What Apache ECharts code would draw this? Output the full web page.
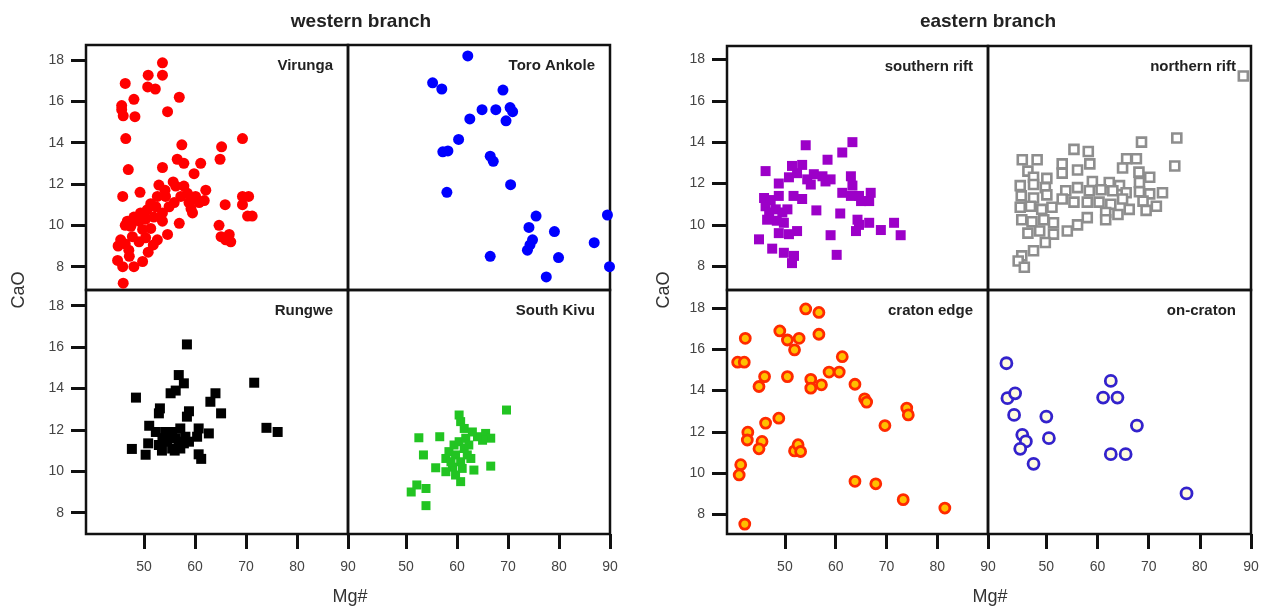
<!DOCTYPE html>
<html><head><meta charset="utf-8">
<script src="https://cdn.jsdelivr.net/npm/echarts@6/dist/echarts.min.js"></script>
<style>html,body{margin:0;padding:0;background:#fff}#c{width:1271px;height:608px}</style>
</head><body><div id="c"></div>
<script>
// ---- data (Mg#, CaO) ----
const virunga = [[53.6,17.87],[50.8,17.27],[53.6,17.27],[46.3,16.87],[50.7,16.7],[52.2,16.6],[56.9,16.2],[48.0,16.1],[45.6,15.8],[45.6,15.6],[45.9,15.3],[48.2,15.26],[54.6,15.5],[46.4,14.2],[57.4,13.9],[65.2,13.8],[64.9,13.2],[69.3,14.2],[46.9,12.7],[53.6,12.8],[56.5,13.2],[57.8,13.0],[61.1,13.0],[59.8,12.5],[45.8,11.4],[49.2,11.6],[52.9,11.95],[55.7,12.1],[62.1,11.7],[61.8,11.2],[65.9,11.0],[69.3,11.4],[70.5,11.4],[69.3,11.0],[70.3,10.45],[71.2,10.45],[64.7,10.0],[65.1,9.45],[66.7,9.56],[67.0,9.2],[66.0,9.3],[56.9,10.1],[54.6,9.56],[45.4,9.3],[46.3,9.1],[47.7,9.45],[49.0,9.2],[50.3,9.4],[51.8,9.05],[52.6,9.3],[44.8,8.3],[45.8,8.0],[48.0,8.0],[49.7,8.25],[47.1,8.5],[45.9,7.2],[46.7,10.2],[48.0,10.4],[49.3,10.6],[50.6,10.75],[50.3,10.3],[51.9,10.4],[52.3,10.9],[53.6,10.6],[53.6,10.2],[52.6,11.4],[54.2,11.4],[54.9,10.9],[55.9,11.1],[57.2,11.4],[57.8,11.9],[58.5,11.55],[58.8,11.1],[59.5,10.6],[60.1,11.4],[60.8,11.1],[59.2,10.8],[56.2,11.9],[54.1,11.7],[51.3,11.05],[49.0,10.2],[47.4,9.95],[51.3,9.85],[49.7,9.8],[44.9,9.0],[47.0,8.8],[50.8,8.7],[46.3,10.0]];
const toroAnkole = [[62.1,18.2],[55.2,16.9],[57.0,16.6],[69.0,16.55],[64.9,15.6],[67.6,15.6],[70.4,15.7],[70.9,15.5],[62.5,15.15],[69.6,15.06],[60.3,14.16],[57.2,13.56],[58.2,13.6],[66.5,13.35],[67.1,13.1],[58.0,11.6],[70.5,11.97],[75.5,10.45],[74.1,9.9],[79.1,9.7],[74.8,9.3],[74.3,9.05],[73.8,8.8],[66.5,8.5],[79.9,8.44],[77.5,7.5],[86.9,9.16],[89.5,10.5],[89.9,8.0]];
const rungwe = [[58.4,16.13],[56.8,14.65],[57.8,14.25],[55.2,13.77],[56.2,13.9],[48.4,13.56],[71.6,14.28],[64.0,13.77],[63.0,13.36],[65.1,12.8],[53.1,13.04],[52.9,12.8],[58.8,12.9],[58.4,12.64],[51.0,12.2],[74.0,12.1],[76.2,11.9],[60.7,12.07],[62.7,11.83],[47.6,11.08],[50.3,10.8],[50.8,11.35],[60.7,10.82],[52.3,11.9],[53.6,11.6],[52.9,11.27],[54.5,11.43],[55.5,11.9],[56.2,11.6],[55.5,11.1],[57.1,11.1],[57.1,12.07],[58.1,11.67],[58.8,11.43],[54.2,11.9],[56.8,11.43],[57.8,11.35],[54.9,11.67],[60.4,11.67],[61.2,10.6],[53.5,11.0],[56.0,11.0]];
const southKivu = [[69.7,12.96],[60.4,12.72],[60.7,12.4],[61.4,12.07],[52.5,11.62],[56.6,11.67],[53.4,10.79],[65.6,11.83],[66.6,11.6],[65.0,11.5],[64.0,11.67],[66.6,10.25],[55.8,10.17],[63.3,10.06],[60.7,9.5],[51.0,9.0],[52.1,9.34],[53.9,9.17],[53.9,8.34],[57.8,10.62],[58.4,10.95],[59.4,11.27],[59.7,10.79],[60.4,11.43],[61.4,11.1],[61.7,11.6],[62.3,11.27],[62.7,10.62],[59.1,10.2],[57.8,9.98],[59.7,9.82],[58.8,10.46],[60.7,10.46],[63.0,11.9],[62.0,10.79],[61.0,10.14]];
const southernRift = [[46.2,12.6],[54.1,13.85],[58.4,13.15],[61.3,13.5],[63.3,14.0],[51.4,12.85],[53.4,12.9],[48.8,12.0],[50.8,12.3],[52.4,12.5],[54.4,12.2],[55.7,12.45],[57.4,12.35],[59.0,12.2],[55.1,11.95],[58.0,12.1],[63.0,12.35],[63.3,11.9],[61.3,11.55],[63.0,11.4],[64.6,11.4],[66.9,11.55],[66.6,11.15],[65.0,11.15],[45.9,11.3],[47.2,11.2],[48.8,11.4],[51.7,11.4],[53.4,11.25],[46.2,10.9],[46.9,10.6],[48.2,10.75],[49.5,10.6],[50.5,10.75],[46.5,10.25],[48.4,10.2],[49.8,10.1],[56.2,10.7],[60.9,10.55],[64.3,10.25],[64.6,10.0],[64.0,9.7],[66.6,10.1],[68.9,9.75],[71.5,10.1],[72.8,9.5],[48.8,9.6],[50.8,9.55],[52.4,9.7],[59.0,9.5],[44.9,9.3],[47.5,8.85],[49.8,8.65],[51.8,8.5],[51.4,8.15],[60.2,8.55]];
const northernRift = [[88.5,17.2],[68.6,14.0],[75.5,14.2],[75.1,12.85],[55.4,13.65],[58.2,13.55],[45.3,13.15],[48.2,13.15],[53.1,12.95],[58.5,12.95],[65.7,13.2],[67.6,13.2],[46.4,12.6],[53.1,12.5],[56.1,12.65],[64.9,12.75],[68.1,12.55],[70.2,12.3],[47.5,12.3],[50.1,12.25],[44.9,11.9],[47.5,11.95],[49.8,11.8],[59.0,12.1],[62.3,12.05],[64.3,11.9],[68.2,12.05],[53.8,11.65],[56.1,11.8],[58.4,11.65],[60.7,11.7],[63.0,11.65],[65.6,11.55],[68.2,11.6],[70.2,11.5],[72.7,11.55],[45.1,11.4],[47.5,11.3],[50.1,11.45],[53.1,11.25],[55.4,11.1],[58.0,11.1],[60.3,11.1],[62.6,11.0],[64.9,11.25],[68.9,11.15],[71.5,10.9],[69.5,10.7],[44.9,10.85],[46.9,10.9],[49.1,10.75],[51.1,10.85],[61.6,10.6],[64.0,10.5],[61.6,10.25],[66.2,10.75],[45.2,10.25],[47.2,10.15],[49.5,10.25],[51.4,10.1],[58.0,10.35],[56.1,10.0],[54.1,9.7],[46.4,9.6],[48.7,9.7],[51.4,9.55],[49.8,9.15],[47.5,8.75],[45.2,8.5],[44.5,8.25],[45.7,7.95]];
const cratonEdge = [[54.1,17.97],[56.7,17.8],[42.2,16.54],[49.0,16.9],[50.5,16.46],[52.8,16.54],[51.9,15.98],[56.7,16.74],[40.7,15.38],[42.0,15.38],[61.3,15.65],[58.7,14.9],[60.7,14.9],[46.0,14.68],[44.9,14.2],[50.5,14.68],[55.1,14.55],[55.1,14.12],[57.2,14.28],[63.8,14.31],[65.7,13.6],[66.1,13.44],[74.0,13.15],[74.3,12.82],[69.7,12.3],[48.8,12.66],[46.2,12.42],[42.7,11.98],[42.6,11.6],[45.5,11.53],[44.9,11.17],[51.9,11.07],[52.6,11.37],[53.1,11.04],[41.3,10.4],[41.0,9.9],[42.1,7.51],[63.8,9.59],[67.9,9.47],[73.3,8.7],[81.5,8.29]];
const onCraton = [[42.2,15.33],[42.4,13.63],[43.9,13.87],[43.7,12.82],[50.0,12.74],[45.3,11.85],[46.0,11.53],[44.9,11.17],[50.5,11.69],[47.5,10.44],[62.6,14.47],[61.1,13.66],[63.9,13.66],[67.7,12.3],[62.6,10.91],[65.5,10.91],[77.4,9.0]];

const xTicks = [50, 60, 70, 80, 90];
const yTicks = [8, 10, 12, 14, 16, 18];
const panelNames = ['Virunga','Toro Ankole','Rungwe','South Kivu','southern rift','northern rift','craton edge','on-craton'];
const branchTitles = ['western branch','eastern branch'];
const xName = 'Mg#', yName = 'CaO';

// ---- layout / style ----
const FONT = '"Liberation Sans", Arial, sans-serif';
const panels = [
  {data: virunga, g:[86,45,262,245], y:[6.87,18.73], yl:true,  xl:false, sym:'circle', size:11, style:{color:'#ff0000'}},
  {data: toroAnkole, g:[348,45,262,245], y:[6.87,18.73], yl:false, xl:false, sym:'circle', size:11, style:{color:'#0000ff'}},
  {data: rungwe, g:[86,290,262,244], y:[6.97,18.76], yl:true, xl:true, sym:'rect', size:10, style:{color:'#000000'}},
  {data: southKivu, g:[348,290,262,244], y:[6.97,18.76], yl:false, xl:true, sym:'rect', size:9, style:{color:'#22c422'}},
  {data: southernRift, g:[727,46,261,244], y:[6.85,18.65], yl:true, xl:false, sym:'rect', size:10, style:{color:'#9c00c8'}},
  {data: northernRift, g:[988,46,263,244], y:[6.85,18.65], yl:false, xl:false, sym:'rect', size:9, style:{color:'#ffffff', borderColor:'#8e8e8e', borderWidth:2.6}},
  {data: cratonEdge, g:[727,290,261,244], y:[7.03,18.89], yl:true, xl:true, sym:'circle', size:10, style:{color:'#ffbf00', borderColor:'#ff2a00', borderWidth:2.8}},
  {data: onCraton, g:[988,290,263,244], y:[7.03,18.89], yl:false, xl:true, sym:'circle', size:11, style:{color:'#fffbe0', borderColor:'#3322cc', borderWidth:2.8}}
];
const xRange = [38.6, 90];

const grid = [], xAxis = [], yAxis = [], series = [], graphic = [];
panels.forEach((p, i) => {
  grid.push({left:p.g[0], top:p.g[1], width:p.g[2], height:p.g[3], show:true, borderColor:'#111', borderWidth:2.5, backgroundColor:'transparent', containLabel:false});
  xAxis.push({type:'value', gridIndex:i, min:xRange[0], max:xRange[1], splitLine:{show:false},
    axisLine:{show:false},
    axisTick:{show:p.xl, inside:false, length:15, customValues:xTicks, lineStyle:{color:'#111', width:3}},
    axisLabel:{show:p.xl, customValues:xTicks, margin:26, color:'#444', fontSize:14, fontFamily:FONT}});
  yAxis.push({type:'value', gridIndex:i, min:p.y[0], max:p.y[1], splitLine:{show:false},
    axisLine:{show:false},
    axisTick:{show:p.yl, inside:false, length:15, customValues:yTicks, lineStyle:{color:'#111', width:3}},
    axisLabel:{show:p.yl, customValues:yTicks, margin:22, color:'#444', fontSize:14, fontFamily:FONT}});
  series.push({type:'scatter', xAxisIndex:i, yAxisIndex:i, data:p.data, symbol:p.sym, symbolSize:p.size,
    itemStyle:Object.assign({opacity:1}, p.style), emphasis:{disabled:true}, animation:false});
  graphic.push({type:'text', right: 1271 - (p.g[0] + p.g[2]) + 15, top: p.g[1] + 13,
    style:{text: panelNames[i], font:'bold 15px ' + FONT, fill:'#222', textAlign:'right'}});
});
// branch titles
[[361, 22], [988, 22]].forEach((c, k) => graphic.push({type:'text', x:c[0], y:c[1],
  style:{text: branchTitles[k], font:'bold 19px ' + FONT, fill:'#222', textAlign:'center', textVerticalAlign:'middle'}}));
// axis names
[350, 990].forEach(cx => graphic.push({type:'text', x:cx, y:597,
  style:{text:xName, font:'18px ' + FONT, fill:'#333', textAlign:'center', textVerticalAlign:'middle'}}));
[19, 664].forEach(cx => graphic.push({type:'text', x:cx, y:290, rotation:Math.PI/2,
  style:{text:yName, font:'18px ' + FONT, fill:'#333', textAlign:'center', textVerticalAlign:'middle'}}));

const chart = echarts.init(document.getElementById('c'), null, {renderer:'canvas'});
chart.setOption({animation:false, backgroundColor:'#fff', grid, xAxis, yAxis, series, graphic});
</script></body></html>
